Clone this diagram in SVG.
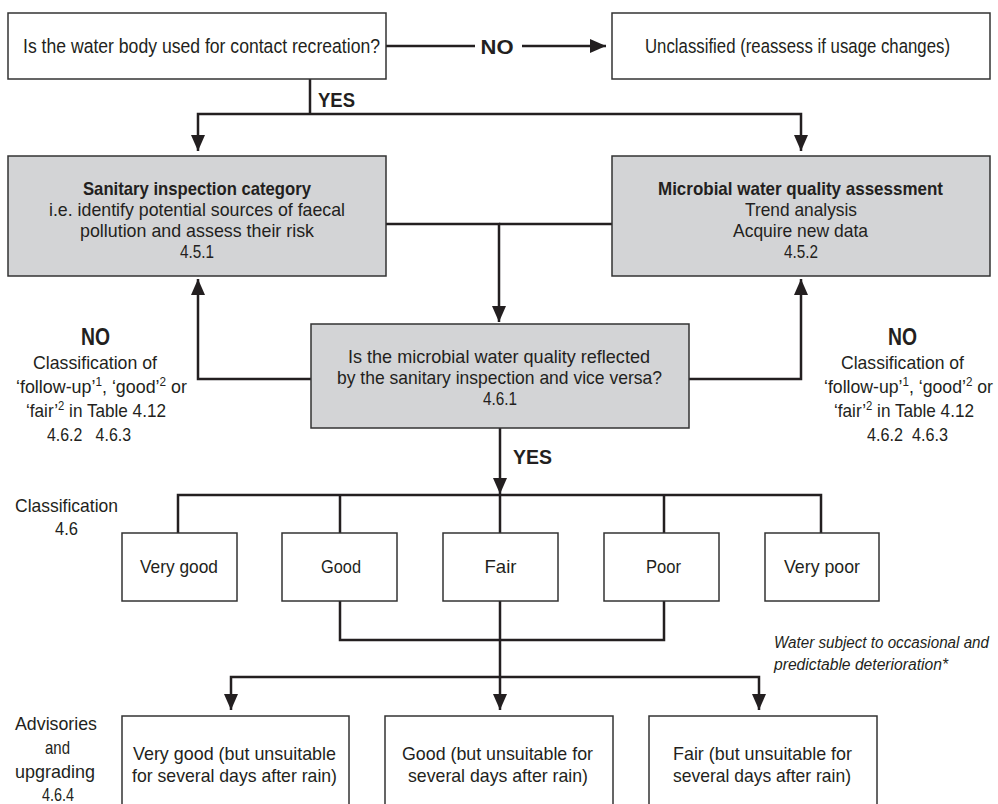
<svg xmlns="http://www.w3.org/2000/svg" width="998" height="804" viewBox="0 0 998 804">
<style>
text{font-family:"Liberation Sans",Arial,sans-serif;font-size:19px;fill:#231f20;text-anchor:middle}
.b{font-weight:bold}
.l{font-size:20.5px}
.h{font-weight:bold;font-size:21px}
.i{font-style:italic;text-anchor:start;font-size:16px}
.box{fill:#fff;stroke:#333;stroke-width:1.5}
.g{fill:#d3d4d6;stroke:#333;stroke-width:1.5}
.c{fill:none;stroke:#231f20;stroke-width:2.5}
.sup{font-size:12.5px}
</style>
<defs>
<marker id="ah" markerUnits="userSpaceOnUse" markerWidth="16" markerHeight="14" viewBox="0 0 16 14" refX="16" refY="7" orient="auto">
<path d="M0,0 L16,7 L0,14 z" fill="#231f20"/>
</marker>
</defs>
<rect width="998" height="804" fill="#fff"/>
<g id="connectors">
<path class="c" d="M386,46 H475"/>
<path class="c" d="M522,46 H606" marker-end="url(#ah)"/>
<path class="c" d="M310,79 V114"/>
<path class="c" d="M310,114 H198 V151" marker-end="url(#ah)"/>
<path class="c" d="M310,114 H801 V151" marker-end="url(#ah)"/>
<path class="c" d="M386,224 H499 V322" marker-end="url(#ah)"/>
<path class="c" d="M612,224 H499"/>
<path class="c" d="M311,379 H198 V279" marker-end="url(#ah)"/>
<path class="c" d="M689,379 H801 V279" marker-end="url(#ah)"/>
<path class="c" d="M500,428 V494" marker-end="url(#ah)"/>
<path class="c" d="M178,533 V495 H821 V533"/>
<path class="c" d="M340,495 V533 M500,495 V533 M664,495 V533"/>
<path class="c" d="M340,601 V640 H664 V601"/>
<path class="c" d="M500,601 V677"/>
<path class="c" d="M500,677 H231 V710" marker-end="url(#ah)"/>
<path class="c" d="M500,677 H759 V710" marker-end="url(#ah)"/>
<path class="c" d="M500,677 V710" marker-end="url(#ah)"/>
</g>
<g id="labels">
<text class="h" x="497" y="54" textLength="33" lengthAdjust="spacingAndGlyphs">NO</text>
<text class="h" x="318" y="107" style="text-anchor:start" textLength="37" lengthAdjust="spacingAndGlyphs">YES</text>
<text class="h" x="513" y="464" style="text-anchor:start" textLength="39" lengthAdjust="spacingAndGlyphs">YES</text>
</g>
<g id="q1">
<rect class="box" x="8" y="13" width="378" height="66"/>
<text class="l" x="201.5" y="53" textLength="357" lengthAdjust="spacingAndGlyphs">Is the water body used for contact recreation?</text>
</g>
<g id="unclassified">
<rect class="box" x="612" y="13" width="378" height="66"/>
<text class="l" x="797.5" y="53" textLength="305" lengthAdjust="spacingAndGlyphs">Unclassified (reassess if usage changes)</text>
</g>
<g id="sanitary">
<rect class="g" x="8" y="156" width="378" height="120"/>
<text class="b" x="197" y="195" textLength="228" lengthAdjust="spacingAndGlyphs">Sanitary inspection category</text>
<text x="197" y="216" textLength="296" lengthAdjust="spacingAndGlyphs">i.e. identify potential sources of faecal</text>
<text x="197" y="237" textLength="234" lengthAdjust="spacingAndGlyphs">pollution and assess their risk</text>
<text x="197" y="258" textLength="34" lengthAdjust="spacingAndGlyphs">4.5.1</text>
</g>
<g id="microbial">
<rect class="g" x="612" y="156" width="378" height="120"/>
<text class="b" x="800.5" y="195" textLength="285" lengthAdjust="spacingAndGlyphs">Microbial water quality assessment</text>
<text x="801" y="216" textLength="112" lengthAdjust="spacingAndGlyphs">Trend analysis</text>
<text x="800.5" y="237" textLength="135" lengthAdjust="spacingAndGlyphs">Acquire new data</text>
<text x="801" y="258" textLength="34" lengthAdjust="spacingAndGlyphs">4.5.2</text>
</g>
<g id="q2">
<rect class="g" x="311" y="324" width="378" height="104"/>
<text x="499" y="363" textLength="302" lengthAdjust="spacingAndGlyphs">Is the microbial water quality reflected</text>
<text x="499.5" y="384" textLength="325" lengthAdjust="spacingAndGlyphs">by the sanitary inspection and vice versa?</text>
<text x="500" y="405" textLength="34" lengthAdjust="spacingAndGlyphs">4.6.1</text>
</g>
<g id="no-left">
<text class="h" x="95.5" y="345" style="font-size:23px" textLength="29" lengthAdjust="spacingAndGlyphs">NO</text>
<text x="95" y="369" textLength="124" lengthAdjust="spacingAndGlyphs">Classification of</text>
<text x="101.5" y="393" textLength="171" lengthAdjust="spacingAndGlyphs">‘follow-up’<tspan class="sup" dy="-7">1</tspan><tspan dy="7">, ‘good’</tspan><tspan class="sup" dy="-7">2</tspan><tspan dy="7"> or</tspan></text>
<text x="96" y="417" textLength="140" lengthAdjust="spacingAndGlyphs">‘fair’<tspan class="sup" dy="-7">2</tspan><tspan dy="7"> in Table 4.12</tspan></text>
<text x="89" y="441" xml:space="preserve" textLength="84" lengthAdjust="spacingAndGlyphs">4.6.2   4.6.3</text>
</g>
<g id="no-right">
<text class="h" x="902.5" y="345" style="font-size:23px" textLength="29" lengthAdjust="spacingAndGlyphs">NO</text>
<text x="902.5" y="369" textLength="123" lengthAdjust="spacingAndGlyphs">Classification of</text>
<text x="908.5" y="393" textLength="169" lengthAdjust="spacingAndGlyphs">‘follow-up’<tspan class="sup" dy="-7">1</tspan><tspan dy="7">, ‘good’</tspan><tspan class="sup" dy="-7">2</tspan><tspan dy="7"> or</tspan></text>
<text x="904" y="417" textLength="140" lengthAdjust="spacingAndGlyphs">‘fair’<tspan class="sup" dy="-7">2</tspan><tspan dy="7"> in Table 4.12</tspan></text>
<text x="907.5" y="441" xml:space="preserve" textLength="81" lengthAdjust="spacingAndGlyphs">4.6.2  4.6.3</text>
</g>
<g id="classification-label">
<text x="66.5" y="512" textLength="103" lengthAdjust="spacingAndGlyphs">Classification</text>
<text x="66.5" y="535" textLength="23" lengthAdjust="spacingAndGlyphs">4.6</text>
</g>
<g id="very-good">
<rect class="box" x="122" y="533" width="115" height="68"/>
<text x="179" y="573" textLength="78" lengthAdjust="spacingAndGlyphs">Very good</text>
</g>
<g id="good">
<rect class="box" x="282" y="533" width="115" height="68"/>
<text x="341" y="573" textLength="40" lengthAdjust="spacingAndGlyphs">Good</text>
</g>
<g id="fair">
<rect class="box" x="443" y="533" width="115" height="68"/>
<text x="500.5" y="573" textLength="32" lengthAdjust="spacingAndGlyphs">Fair</text>
</g>
<g id="poor">
<rect class="box" x="604" y="533" width="115" height="68"/>
<text x="663.5" y="573" textLength="35" lengthAdjust="spacingAndGlyphs">Poor</text>
</g>
<g id="very-poor">
<rect class="box" x="765" y="533" width="114" height="68"/>
<text x="822" y="573" textLength="76" lengthAdjust="spacingAndGlyphs">Very poor</text>
</g>
<g id="note">
<text class="i" x="774" y="648" textLength="215" lengthAdjust="spacingAndGlyphs">Water subject to occasional and</text>
<text class="i" x="774" y="670" textLength="174" lengthAdjust="spacingAndGlyphs">predictable deterioration*</text>
</g>
<g id="advisories-label">
<text x="56" y="730" textLength="82" lengthAdjust="spacingAndGlyphs">Advisories</text>
<text x="57.5" y="754" textLength="25" lengthAdjust="spacingAndGlyphs">and</text>
<text x="55" y="778" textLength="80" lengthAdjust="spacingAndGlyphs">upgrading</text>
<text x="58" y="801" textLength="32" lengthAdjust="spacingAndGlyphs">4.6.4</text>
</g>
<g id="adv-very-good">
<rect class="box" x="122" y="716" width="227" height="100"/>
<text x="234.5" y="760" textLength="203" lengthAdjust="spacingAndGlyphs">Very good (but unsuitable</text>
<text x="234.5" y="782" textLength="205" lengthAdjust="spacingAndGlyphs">for several days after rain)</text>
</g>
<g id="adv-good">
<rect class="box" x="385" y="716" width="228" height="100"/>
<text x="497.5" y="760" textLength="191" lengthAdjust="spacingAndGlyphs">Good (but unsuitable for</text>
<text x="498" y="782" textLength="180" lengthAdjust="spacingAndGlyphs">several days after rain)</text>
</g>
<g id="adv-fair">
<rect class="box" x="649" y="716" width="228" height="100"/>
<text x="762.5" y="760" textLength="179" lengthAdjust="spacingAndGlyphs">Fair (but unsuitable for</text>
<text x="762" y="782" textLength="178" lengthAdjust="spacingAndGlyphs">several days after rain)</text>
</g>
</svg>
